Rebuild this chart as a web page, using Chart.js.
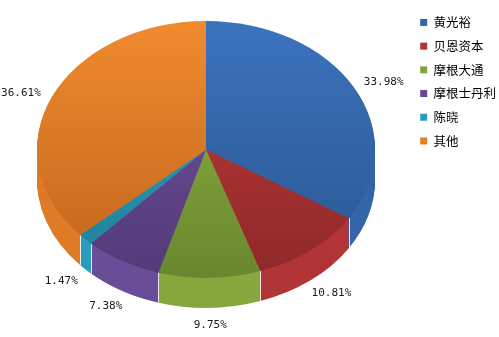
<!DOCTYPE html>
<html>
<head>
<meta charset="utf-8">
<script src="https://cdn.jsdelivr.net/npm/chart.js@4.4.1/dist/chart.umd.min.js"></script>
<style>
  html, body { margin: 0; padding: 0; background: #fff; overflow: hidden; }
  #wrap { position: relative; width: 499px; height: 343px; }
</style>
</head>
<body>
<div id="wrap"><canvas id="chart"></canvas></div>
<script>
const holders = ["黄光裕", "贝恩资本", "摩根大通", "摩根士丹利", "陈晓", "其他"];
const shares = [33.98, 10.81, 9.75, 7.38, 1.47, 36.61];

// top face gradient (light at back, dark at front), wall colour, legend key
const lightColors = ["#3b73bd", "#c13b3c", "#93b545", "#7455a3", "#30a7c9", "#f08b2f"];
const darkColors = ["#2a568f", "#8f2829", "#69872e", "#523a77", "#217e97", "#c1651c"];
const sideColors = ["#3466a9", "#b13437", "#86a83e", "#6a4e98", "#2a9cbc", "#df7b28"];
const keyColors = ["#3465a8", "#b03434", "#82a43c", "#66488e", "#2a9cbd", "#e57d28"];

const TILT = 0.76;   // vertical squash of the pie
const DEPTH = 30;    // wall height in px
const TOP = 21;      // y of the back rim

function squash(ctx, arc, shift) {
  ctx.translate(0, TOP + shift);
  ctx.scale(1, TILT);
  ctx.translate(0, -(arc.y - arc.outerRadius));
}

function toScreenY(arc, y) {
  return TOP + (y - (arc.y - arc.outerRadius)) * TILT;
}

const pie3d = {
  id: "pie3d",
  beforeDatasetsDraw(chart) {
    const ctx = chart.ctx;
    const arcs = chart.getDatasetMeta(0).data;
    const a0 = arcs[0];

    // walls: stack the slices downwards
    for (let d = DEPTH; d > 0; d--) {
      ctx.save();
      squash(ctx, a0, d);
      arcs.forEach(function (arc, i) {
        ctx.beginPath();
        ctx.moveTo(arc.x, arc.y);
        ctx.arc(arc.x, arc.y, arc.outerRadius, arc.startAngle, arc.endAngle);
        ctx.closePath();
        ctx.fillStyle = sideColors[i];
        ctx.fill();
      });
      ctx.restore();
    }

    // thin seams between slices on the wall
    ctx.save();
    ctx.strokeStyle = "rgba(255,255,255,0.85)";
    ctx.lineWidth = 1;
    arcs.forEach(function (arc) {
      const ang = arc.startAngle;
      if (Math.sin(ang) <= 0) return;
      const px = Math.round(arc.x + arc.outerRadius * Math.cos(ang)) + 0.5;
      const py = toScreenY(a0, arc.y + arc.outerRadius * Math.sin(ang));
      ctx.beginPath();
      ctx.moveTo(px, py);
      ctx.lineTo(px, py + DEPTH);
      ctx.stroke();
    });
    ctx.restore();

    // top face is drawn by chart.js inside this transform
    ctx.save();
    squash(ctx, a0, 0);
  },
  afterDatasetsDraw(chart) {
    const ctx = chart.ctx;
    ctx.restore();

    const arcs = chart.getDatasetMeta(0).data;
    const a0 = arcs[0];
    ctx.save();
    ctx.font = "11px 'DejaVu Sans Mono'";
    ctx.fillStyle = "#1a1a1a";
    ctx.textAlign = "center";
    ctx.textBaseline = "middle";
    arcs.forEach(function (arc, i) {
      const mid = (arc.startAngle + arc.endAngle) / 2;
      const x = arc.x + arc.outerRadius * 1.2 * Math.cos(mid);
      let y = toScreenY(a0, arc.y + arc.outerRadius * 1.15 * Math.sin(mid));
      y += Math.sin(mid) > 0 ? DEPTH - 2 : 4;
      ctx.fillText(shares[i].toFixed(2) + "%", x, y);
    });
    ctx.restore();
  }
};

const ctx = document.getElementById("chart").getContext("2d");
const myChart = new Chart(ctx, {
  type: "pie",
  data: {
    labels: holders,
    datasets: [
      {
        data: shares,
        backgroundColor: function (c) {
          const area = c.chart.chartArea;
          if (!area || c.dataIndex === undefined) return keyColors[0];
          const g = c.chart.ctx.createLinearGradient(0, area.top, 0, area.bottom);
          g.addColorStop(0, lightColors[c.dataIndex]);
          g.addColorStop(1, darkColors[c.dataIndex]);
          return g;
        },
        borderWidth: 0,
      },
    ],
  },
  options: {
    responsive: true,
    maintainAspectRatio: false,
    animation: false,
    layout: { padding: { top: 5, right: 0, bottom: 0, left: 3 } },
    plugins: {
      tooltip: { enabled: false },
      legend: {
        position: "right",
        align: "start",
        maxWidth: 90,
        onClick: null,
        labels: {
          boxWidth: 7,
          boxHeight: 7,
          padding: 11.2,
          color: "#000",
          font: { family: "'Noto Sans CJK SC'", size: 12.5 },
          generateLabels: function () {
            return holders.map(function (name, i) {
              return {
                text: name,
                fillStyle: keyColors[i],
                strokeStyle: keyColors[i],
                lineWidth: 0,
                hidden: false,
                index: i,
              };
            });
          },
        },
      },
    },
  },
  plugins: [pie3d],
});
</script>
</body>
</html>
